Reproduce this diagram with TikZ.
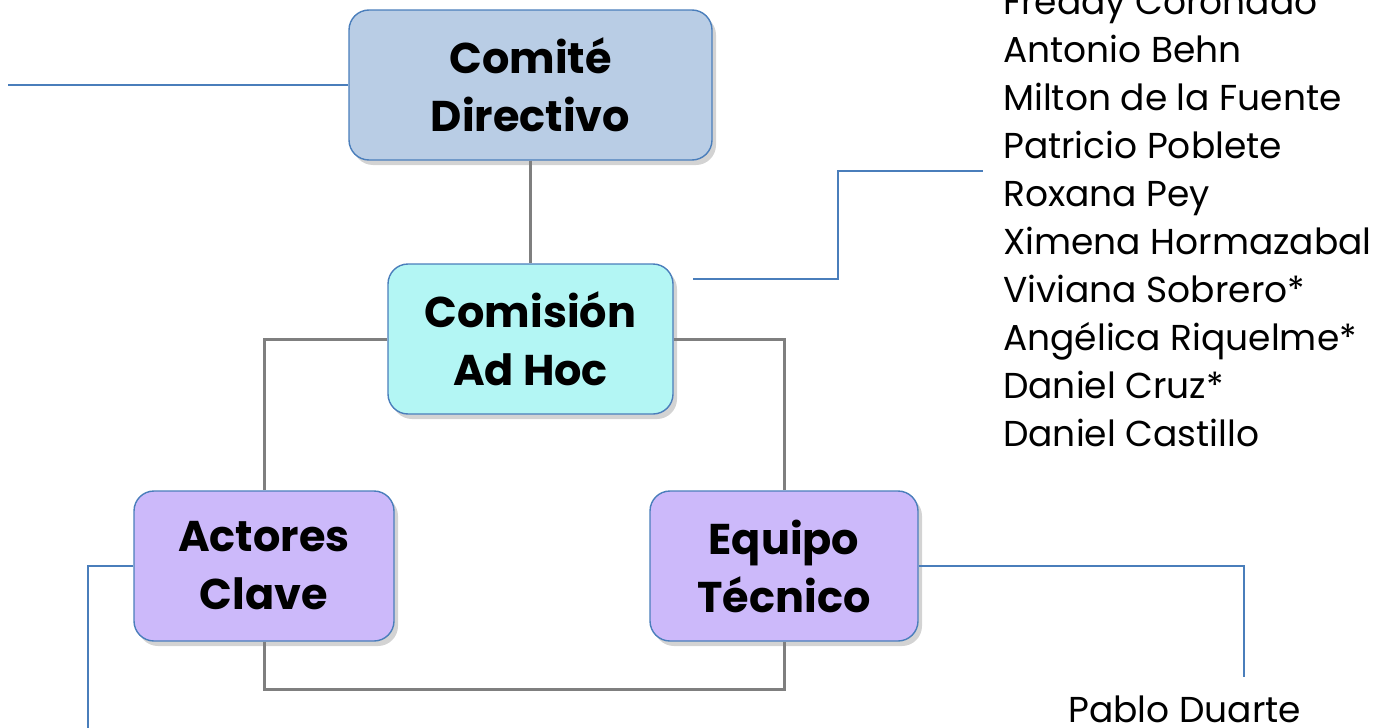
\documentclass[tikz,border=0pt]{standalone}
\usepackage{fontspec}
\setmainfont{Poppins}
\usetikzlibrary{shadows}
\definecolor{linkblue}{HTML}{4A7EBB}
\definecolor{treegray}{HTML}{7F7F7F}
\definecolor{comitefill}{HTML}{B9CDE5}
\definecolor{comisionfill}{HTML}{B3F6F4}
\definecolor{grupofill}{HTML}{CCB9FA}
\tikzset{>=latex}

\begin{document}
\begin{tikzpicture}[x=1pt, y=-1pt,
                unit/.style={draw=linkblue, line width=1.4pt, rounded corners=20pt,
                    minimum height=150pt, align=center, inner sep=0pt,
                    font=\fontsize{43}{58}\selectfont\bfseries,
                    drop shadow={shadow xshift=4pt, shadow yshift=-5pt, opacity=0.35}},
                tree/.style={draw=treegray, line width=3pt},
                link/.style={draw=linkblue, line width=1.4pt},
                member/.style={anchor=base west, inner sep=0pt,
                    font=\fontsize{36}{48}\selectfont}]
                \useasboundingbox (0,0) rectangle (1374,728);

                % units
                \node[unit, fill=comitefill, minimum width=363pt] (comite) at (530.5,85) {Comité\\Directivo};
                \node[unit, fill=comisionfill, minimum width=285pt] (comision) at (530.5,339) {Comisión\\Ad Hoc};
                \node[unit, fill=grupofill, minimum width=260pt] (actores) at (264,566) {Actores\\Clave};
                \node[unit, fill=grupofill, minimum width=268pt] (equipo) at (784,566) {Equipo\\Técnico};

                % tree connectors
                \draw[tree] (comite) -- (comision);
                \draw[tree] (comision.west) -| (actores.north);
                \draw[tree] (comision.east) -| (equipo.north);
                \draw[tree] (actores.south) -- ++(0,48) -| (equipo.south);

                % member lists
                \foreach \name [count=\i from 0] in {Freddy Coronado, Antonio Behn, Milton de la Fuente,
                    Patricio Poblete, Roxana Pey, Ximena Hormazabal, Viviana Sobrero*,
                    Angélica Riquelme*, Daniel Cruz*, Daniel Castillo}{
                    \node[member] (m\i) at (1003,{14+48.1*\i}) {\name};
                }
                \node[member] (pablo) at (1068,722) {Pablo Duarte};

                % blue links
                \coordinate (comite end) at (8,85);
                \coordinate (adhoc tap) at (693,279);
                \coordinate (list tap) at (983,171);
                \coordinate (actores end) at (88,728);
                \coordinate (equipo end) at (1244,677);
                \draw[link] (comite end) -- (comite.west);
                \draw[link] (adhoc tap) -- ++(145,0) |- (list tap);
                \draw[link] (actores.west) -| (actores end);
                \draw[link] (equipo.east) -| (equipo end);

            \end{tikzpicture}
\end{document}
